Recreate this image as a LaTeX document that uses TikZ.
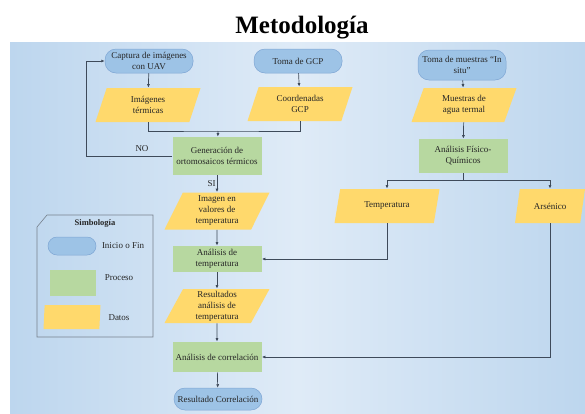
\documentclass[tikz,border=0pt]{standalone}
\usepackage{fontspec}
\setmainfont{Liberation Serif}
\usetikzlibrary{shapes.geometric, arrows.meta, positioning}
\definecolor{bgedge}{RGB}{189,214,238}
\definecolor{bgmid}{RGB}{223,235,247}
\definecolor{termblue}{RGB}{157,195,230}
\definecolor{termline}{RGB}{126,166,212}
\definecolor{procgreen}{RGB}{183,216,160}
\definecolor{datayellow}{RGB}{255,217,108}
\definecolor{linegray}{RGB}{62,74,90}
\definecolor{boxgray}{RGB}{120,130,142}

\begin{document}
\begin{tikzpicture}[x=1pt, y=-1pt, >={Latex[length=3.5pt,width=3pt]}, line width=0.7pt,
    every node/.style={font=\fontsize{9}{11}\selectfont, text=black!85, align=center, inner sep=1pt},
    term/.style={draw=termline, line width=0.5pt, fill=termblue, rounded corners=11pt,
        minimum width=88pt, minimum height=24pt},
    proc/.style={fill=procgreen, minimum width=89pt, minimum height=34pt},
    data/.style={trapezium, trapezium left angle=60, trapezium right angle=120,
        trapezium stretches body, fill=datayellow, minimum width=105pt, minimum height=34pt},
    link/.style={draw=linegray}]
    \useasboundingbox (0,0) rectangle (585,413);
    \shade[left color=bgedge, right color=bgedge, middle color=bgmid] (10,42) rectangle (585,413);
    \node[anchor=base, text=black, font=\bfseries\fontsize{25}{28}\selectfont] (title) at (302,33) {Metodología};

    % inicio
    \node[term] (cap) at (149,61) {Captura de imágenes\\con UAV};
    \node[term] (gcp) at (298,61) {Toma de GCP};
    \node[term, minimum height=30pt] (ins) at (462,65) {Toma de muestras “In\\situ”};
    % datos de entrada
    \node[data] (img) at (148,105) {Imágenes\\térmicas};
    \node[data] (coord) at (300,104) {Coordenadas\\GCP};
    \node[data] (mue) at (464,105) {Muestras de\\agua termal};
    % procesos
    \node[proc, minimum height=38pt] (gen) at (217,156) {Generación de\\ortomosaicos térmicos};
    \node[data, minimum height=37pt] (val) at (217,211) {Imagen en\\valores de\\temperatura};
    \node[proc, minimum height=26pt] (atemp) at (217,259) {Análisis de\\temperatura};
    \node[data] (res) at (217,306) {Resultados\\análisis de\\temperatura};
    \node[proc, minimum height=30pt] (acorr) at (217,357) {Análisis de correlación};
    \node[term, minimum height=22pt] (rcorr) at (218,399) {Resultado Correlación};
    \node[proc] (afq) at (463,156) {Análisis Físico-\\Químicos};
    \node[data] (temp) at (387,206) {Temperatura};
    \node[data, minimum width=70pt] (ars) at (550,206) {Arsénico};

    % conectores
    \coordinate (jn) at (218,131);
    \coordinate (nocorner) at (86,156);
    \coordinate (bj) at (463,180);
    \draw[link, ->] (cap) -- (img);
    \draw[link, ->] (gcp) -- (coord);
    \draw[link, ->] (ins) -- (mue);
    \draw[link] (img.south) |- (jn) -| (coord.south);
    \draw[link, ->] (jn) -- (gen);
    \draw[link, ->] (gen.west) -- node[pos=0.35, above=3pt] {NO} (nocorner) |- (cap.west);
    \draw[link, ->] (gen) -- node[midway, left] {SI} (val);
    \draw[link, ->] (val) -- (atemp);
    \draw[link, ->] (atemp) -- (res);
    \draw[link, ->] (res) -- (acorr);
    \draw[link, ->] (acorr) -- (rcorr);
    \draw[link, ->] (mue) -- (afq);
    \draw[link] (afq) -- (bj);
    \draw[link, ->] (bj) -| (temp.north);
    \draw[link, ->] (bj) -| (ars.north);
    \draw[link, ->] (temp.south) |- (atemp.east);
    \draw[link, ->] (ars.south) |- (acorr.east);

    % simbologia
    \draw[boxgray, line width=0.6pt] (37,227) -- (47,215) -- (153,215) -- (153,337) -- (37,337) -- cycle;
    \node[font=\bfseries\fontsize{8.5}{10}\selectfont] (simb) at (95,223) {Simbología};
    \node[term, minimum width=48pt, minimum height=18pt, rounded corners=9pt] (lgterm) at (72,246) {};
    \node (lgterml) at (123,246) {Inicio o Fin};
    \node[proc, minimum width=46pt, minimum height=26pt] (lgproc) at (73,283) {};
    \node (lgprocl) at (119,278) {Proceso};
    \node[data, minimum width=57pt, minimum height=24pt] (lgdata) at (72,317) {};
    \node (lgdatal) at (119,318) {Datos};
\end{tikzpicture}
\end{document}
